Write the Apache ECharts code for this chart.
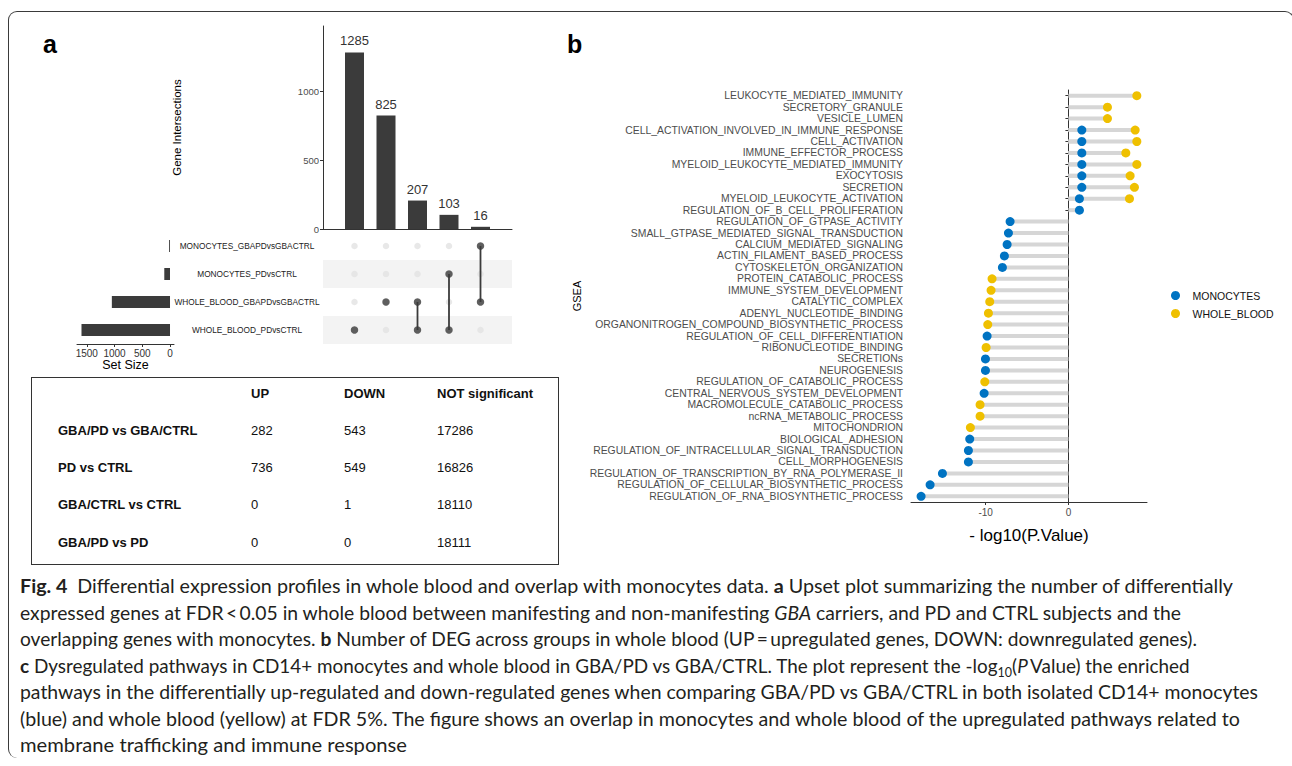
<!DOCTYPE html>
<html>
<head>
<meta charset="utf-8">
<title>Fig. 4</title>
<script src="https://cdn.jsdelivr.net/npm/echarts@6.0.0/dist/echarts.min.js"></script>
<style>
  html, body { margin:0; padding:0; background:#fff; }
  #wrap { position:relative; width:1292px; height:766px; overflow:hidden; background:#fff; }
  #chart { position:absolute; left:0; top:0; width:1292px; height:766px; }
  #frame { position:absolute; left:8px; top:11px; width:1286px; height:747px; box-sizing:border-box;
           border:1.2px solid #3a3a3a; border-bottom:none; border-radius:9px 9px 0 9px; pointer-events:none; }
  #tbl { position:absolute; left:31px; top:377px; width:528px; height:188px; box-sizing:border-box;
         border:1.2px solid #333; font-family:"Liberation Sans", Arial, sans-serif; font-size:13px; color:#111; }
  #tbl div { position:absolute; white-space:nowrap; line-height:16px; }
  #tbl .b { font-weight:bold; }
  #caption { position:absolute; left:0; top:0; width:1292px; height:766px; font-family:Lato, "Noto Sans", sans-serif;
             color:#231f20; pointer-events:none; }
  #caption .ln { position:absolute; left:20px; white-space:nowrap; line-height:26px; width:max-content; transform-origin:0 50%; }
  #caption sub { font-size:0.66em; vertical-align:-0.3em; line-height:0; }
</style>
</head>
<body>
<div id="wrap">
  <div id="chart"></div>
  <div id="frame"></div>
  <div id="tbl"></div>
  <div id="caption"></div>
</div>
<script>
// ---------- Panel a : UpSet data ----------
const intersectionCounts = [1285, 825, 207, 103, 16];
const setNames = ['MONOCYTES_GBAPDvsGBACTRL', 'MONOCYTES_PDvsCTRL', 'WHOLE_BLOOD_GBAPDvsGBACTRL', 'WHOLE_BLOOD_PDvsCTRL'];
const setSizes = [16, 103, 1048, 1595];
const intersectionSets = [[3], [2], [2, 3], [1, 3], [0, 2]];
const intersectionTicks = [0, 500, 1000];
const setSizeTicks = [0, 500, 1000, 1500];

// ---------- Panel a : table data ----------
const tableHeader = ['UP', 'DOWN', 'NOT significant'];
const tableComparisons = ['GBA/PD vs GBA/CTRL', 'PD vs CTRL', 'GBA/CTRL vs CTRL', 'GBA/PD vs PD'];
const tableUp = [282, 736, 0, 0];
const tableDown = [543, 549, 1, 0];
const tableNotSig = [17286, 16826, 18110, 18111];

// ---------- Panel b : GSEA lollipop data ----------
const pathways = [
  'LEUKOCYTE_MEDIATED_IMMUNITY', 'SECRETORY_GRANULE', 'VESICLE_LUMEN',
  'CELL_ACTIVATION_INVOLVED_IN_IMMUNE_RESPONSE', 'CELL_ACTIVATION', 'IMMUNE_EFFECTOR_PROCESS',
  'MYELOID_LEUKOCYTE_MEDIATED_IMMUNITY', 'EXOCYTOSIS', 'SECRETION', 'MYELOID_LEUKOCYTE_ACTIVATION',
  'REGULATION_OF_B_CELL_PROLIFERATION', 'REGULATION_OF_GTPASE_ACTIVITY',
  'SMALL_GTPASE_MEDIATED_SIGNAL_TRANSDUCTION', 'CALCIUM_MEDIATED_SIGNALING', 'ACTIN_FILAMENT_BASED_PROCESS',
  'CYTOSKELETON_ORGANIZATION', 'PROTEIN_CATABOLIC_PROCESS', 'IMMUNE_SYSTEM_DEVELOPMENT', 'CATALYTIC_COMPLEX',
  'ADENYL_NUCLEOTIDE_BINDING', 'ORGANONITROGEN_COMPOUND_BIOSYNTHETIC_PROCESS',
  'REGULATION_OF_CELL_DIFFERENTIATION', 'RIBONUCLEOTIDE_BINDING', 'SECRETIONs', 'NEUROGENESIS',
  'REGULATION_OF_CATABOLIC_PROCESS', 'CENTRAL_NERVOUS_SYSTEM_DEVELOPMENT', 'MACROMOLECULE_CATABOLIC_PROCESS',
  'ncRNA_METABOLIC_PROCESS', 'MITOCHONDRION', 'BIOLOGICAL_ADHESION',
  'REGULATION_OF_INTRACELLULAR_SIGNAL_TRANSDUCTION', 'CELL_MORPHOGENESIS',
  'REGULATION_OF_TRANSCRIPTION_BY_RNA_POLYMERASE_II', 'REGULATION_OF_CELLULAR_BIOSYNTHETIC_PROCESS',
  'REGULATION_OF_RNA_BIOSYNTHETIC_PROCESS'
];
const monocytes = [null, null, null, 1.62, 1.62, 1.62, 1.62, 1.62, 1.62, 1.33, 1.33,
  -7.05, -7.25, -7.41, -7.74, -7.98, null, null, null, null, null, -9.83, null, -10.03, -10.03, null,
  -10.19, null, null, null, -11.93, -12.09, -12.09, -15.23, -16.72, -17.81];
const wholeBlood = [8.27, 4.72, 4.72, 8.07, 8.27, 6.94, 8.27, 7.46, 7.98, 7.38, null,
  null, null, null, null, null, -9.23, -9.35, -9.51, -9.67, -9.75, null, -9.95, null, null, -10.11,
  null, -10.68, -10.68, -11.85, null, null, null, null, null, null];
const gseaTicks = [-10, 0];
const seriesNames = ['MONOCYTES', 'WHOLE_BLOOD'];

// ---------- Caption ----------
const captionLines = [
  '<b>Fig. 4</b>&ensp;Differential expression profiles in whole blood and overlap with monocytes data. <b>a</b> Upset plot summarizing the number of differentially',
  'expressed genes at FDR\u2009&lt;\u20090.05 in whole blood between manifesting and non-manifesting <i>GBA</i> carriers, and PD and CTRL subjects and the',
  'overlapping genes with monocytes. <b>b</b> Number of DEG across groups in whole blood (UP\u2009=\u2009upregulated genes, DOWN: downregulated genes).',
  '<b>c</b> Dysregulated pathways in CD14+ monocytes and whole blood in GBA/PD vs GBA/CTRL. The plot represent the -log<sub>10</sub>(<i>P</i>\u2009Value) the enriched',
  'pathways in the differentially up-regulated and down-regulated genes when comparing GBA/PD vs GBA/CTRL in both isolated CD14+ monocytes',
  '(blue) and whole blood (yellow) at FDR 5%. The figure shows an overlap in monocytes and whole blood of the upregulated pathways related to',
  'membrane trafficking and immune response'
];

// ================= table =================
(function buildTable() {
  const tbl = document.getElementById('tbl');
  const colX = [26, 219, 312, 405];
  const rowY = [8, 45, 82, 119, 157];
  const add = (txt, x, y, bold) => {
    const d = document.createElement('div');
    d.textContent = txt; d.style.left = x + 'px'; d.style.top = y + 'px';
    if (bold) d.className = 'b';
    tbl.appendChild(d);
  };
  tableHeader.forEach((h, i) => add(h, colX[i + 1], rowY[0], true));
  tableComparisons.forEach((c, r) => {
    add(c, colX[0], rowY[r + 1], true);
    add(String(tableUp[r]), colX[1], rowY[r + 1], false);
    add(String(tableDown[r]), colX[2], rowY[r + 1], false);
    add(String(tableNotSig[r]), colX[3], rowY[r + 1], false);
  });
})();

// ================= caption =================
(function buildCaption() {
  const cap = document.getElementById('caption');
  const centers = [586, 612.5, 639, 665.5, 692, 718.5, 745];
  const targets = [1213, 1161, 1177, 1150, 1238, 1220, 387];
  const els = captionLines.map((html, i) => {
    const d = document.createElement('div');
    d.className = 'ln'; d.innerHTML = html; d.style.top = (centers[i] - 13) + 'px';
    d.style.fontSize = '18px';
    cap.appendChild(d);
    return d;
  });
  const w0 = els[0].getBoundingClientRect().width;
  const fs = 18 * targets[0] / w0;
  els.forEach(e => e.style.fontSize = fs.toFixed(2) + 'px');
  els.forEach((e, i) => {
    const w = e.getBoundingClientRect().width;
    let s = targets[i] / w; s = Math.max(0.96, Math.min(1.04, s));
    e.style.transform = 'scaleX(' + s.toFixed(4) + ')';
  });
})();

// ================= chart =================
const chart = echarts.init(document.getElementById('chart'), null, { renderer: 'svg' });
const dark = '#3b3b3b';
const axisDark = '#333';
const plain = v => String(v);

const matrixBg = [];
for (let c = 0; c < intersectionCounts.length; c++)
  for (let r = 0; r < setNames.length; r++) matrixBg.push([c + 1, setNames[r]]);
const matrixOn = [];
intersectionSets.forEach((sets, c) => sets.forEach(r => matrixOn.push([c + 1, setNames[r]])));
const matrixLineSeries = [];
intersectionSets.forEach((sets, c) => {
  if (sets.length > 1) {
    const rs = sets.slice().sort((a, b) => a - b);
    matrixLineSeries.push({
      type: 'line', xAxisIndex: 1, yAxisIndex: 1, silent: true, z: 3, symbol: 'none',
      data: [[c + 1, setNames[rs[0]]], [c + 1, setNames[rs[rs.length - 1]]]],
      lineStyle: { color: dark, width: 1.8 }
    });
  }
});

const toPoints = arr => arr.map((v, i) => v == null ? null : [v, pathways[i]]).filter(p => p);

const option = {
  animation: false,
  backgroundColor: 'transparent',
  textStyle: { fontFamily: '"Liberation Sans", Arial, sans-serif' },
  graphic: [
    { type: 'text', left: 43, top: 31, style: { text: 'a', font: 'bold 25px "Liberation Sans", Arial', fill: '#000' } },
    { type: 'text', left: 567, top: 31, style: { text: 'b', font: 'bold 25px "Liberation Sans", Arial', fill: '#000' } }
  ],
  grid: [
    { left: 323, top: 26, width: 189, height: 203 },
    { left: 323, top: 232, width: 189, height: 112 },
    { left: 77, top: 232, width: 97, height: 112 },
    { left: 911, top: 90, width: 236, height: 412 }
  ],
  legend: {
    data: seriesNames, orient: 'vertical', left: 1166, top: 285, icon: 'circle',
    itemWidth: 24, itemHeight: 9, itemGap: 7,
    textStyle: { fontSize: 10.5, color: '#111' }
  },
  xAxis: [
    { gridIndex: 0, type: 'value', min: 0, max: 6,
      axisLine: { show: true, onZero: false, lineStyle: { color: axisDark, width: 1 } },
      axisTick: { show: false }, axisLabel: { show: false }, splitLine: { show: false } },
    { gridIndex: 1, type: 'value', min: 0, max: 6, show: false, splitLine: { show: false } },
    { gridIndex: 2, type: 'value', inverse: true, min: -72, max: 1676,
      axisLine: { show: true, onZero: false, lineStyle: { color: axisDark } },
      axisTick: { show: true, length: 3, customValues: setSizeTicks, lineStyle: { color: axisDark } },
      axisLabel: { customValues: setSizeTicks, formatter: plain, fontSize: 10, color: '#333', margin: 4 },
      splitLine: { show: false },
      name: 'Set Size', nameLocation: 'middle', nameGap: 14, nameTextStyle: { fontSize: 12.5, color: '#000' } },
    { gridIndex: 3, type: 'value', min: -19.03, max: 9.5,
      axisLine: { show: true, onZero: false, lineStyle: { color: axisDark } },
      axisTick: { show: true, length: 3, customValues: gseaTicks, lineStyle: { color: axisDark } },
      axisLabel: { customValues: gseaTicks, formatter: plain, fontSize: 10, color: '#4d4d4d', margin: 5 },
      splitLine: { show: false },
      name: '- log10(P.Value)', nameLocation: 'middle', nameGap: 25, nameTextStyle: { fontSize: 17, color: '#000' } }
  ],
  yAxis: [
    { gridIndex: 0, type: 'value', min: 0, max: 1477,
      axisLine: { show: true, onZero: false, lineStyle: { color: axisDark } },
      axisTick: { show: true, length: 3, customValues: intersectionTicks, lineStyle: { color: axisDark } },
      axisLabel: { customValues: intersectionTicks, formatter: plain, fontSize: 9.5, color: '#4d4d4d', margin: 4 },
      splitLine: { show: false },
      name: 'Gene Intersections', nameLocation: 'middle', nameRotate: 90, nameGap: 140,
      nameTextStyle: { fontSize: 11.5, color: '#000' } },
    { gridIndex: 1, type: 'category', inverse: true, data: setNames,
      axisLine: { show: false }, axisTick: { show: false },
      axisLabel: { fontSize: 8.3, color: '#222', align: 'center', margin: 76 },
      splitLine: { show: false },
      splitArea: { show: true, areaStyle: { color: ['rgba(255,255,255,0)', '#f3f3f3'] } } },
    { gridIndex: 2, type: 'category', inverse: true, data: setNames, show: false },
    { gridIndex: 3, type: 'category', inverse: true, data: pathways,
      axisLine: { show: true, lineStyle: { color: axisDark } },
      axisTick: { show: true, length: 3, alignWithLabel: true, lineStyle: { color: axisDark } },
      axisLabel: { fontSize: 10.4, color: '#4d4d4d', margin: 8, interval: 0 },
      splitLine: { show: false },
      name: 'GSEA', nameLocation: 'middle', nameRotate: 90, nameGap: 329,
      nameTextStyle: { fontSize: 11, color: '#000' } }
  ],
  series: [
    { type: 'bar', xAxisIndex: 0, yAxisIndex: 0, barWidth: 19,
      data: intersectionCounts.map((v, i) => [i + 1, v]),
      itemStyle: { color: dark },
      label: { show: true, position: 'top', fontSize: 13, color: '#333', distance: 5 } },
    { type: 'scatter', xAxisIndex: 1, yAxisIndex: 1, data: matrixBg, symbolSize: 6.5, z: 2, silent: true,
      itemStyle: { color: '#e2e2e2' } },
    ...matrixLineSeries,
    { type: 'scatter', xAxisIndex: 1, yAxisIndex: 1, data: matrixOn, symbolSize: 7.5, z: 4, silent: true,
      itemStyle: { color: dark } },
    { type: 'bar', xAxisIndex: 2, yAxisIndex: 2, data: setSizes, barWidth: 12, itemStyle: { color: dark } },
    { type: 'bar', name: 'seg-mono', xAxisIndex: 3, yAxisIndex: 3, data: monocytes, barWidth: 4, barGap: '-100%',
      itemStyle: { color: '#d6d6d6' }, silent: true, z: 1 },
    { type: 'bar', name: 'seg-wb', xAxisIndex: 3, yAxisIndex: 3, data: wholeBlood, barWidth: 4, barGap: '-100%',
      itemStyle: { color: '#d6d6d6' }, silent: true, z: 1 },
    { type: 'scatter', name: seriesNames[0], xAxisIndex: 3, yAxisIndex: 3, data: toPoints(monocytes),
      symbolSize: 9, z: 5, itemStyle: { color: '#0073C2', opacity: 1 } },
    { type: 'scatter', name: seriesNames[1], xAxisIndex: 3, yAxisIndex: 3, data: toPoints(wholeBlood),
      symbolSize: 9, z: 5, itemStyle: { color: '#EFC000', opacity: 1 } }
  ]
};
chart.setOption(option);
</script>
</body>
</html>
